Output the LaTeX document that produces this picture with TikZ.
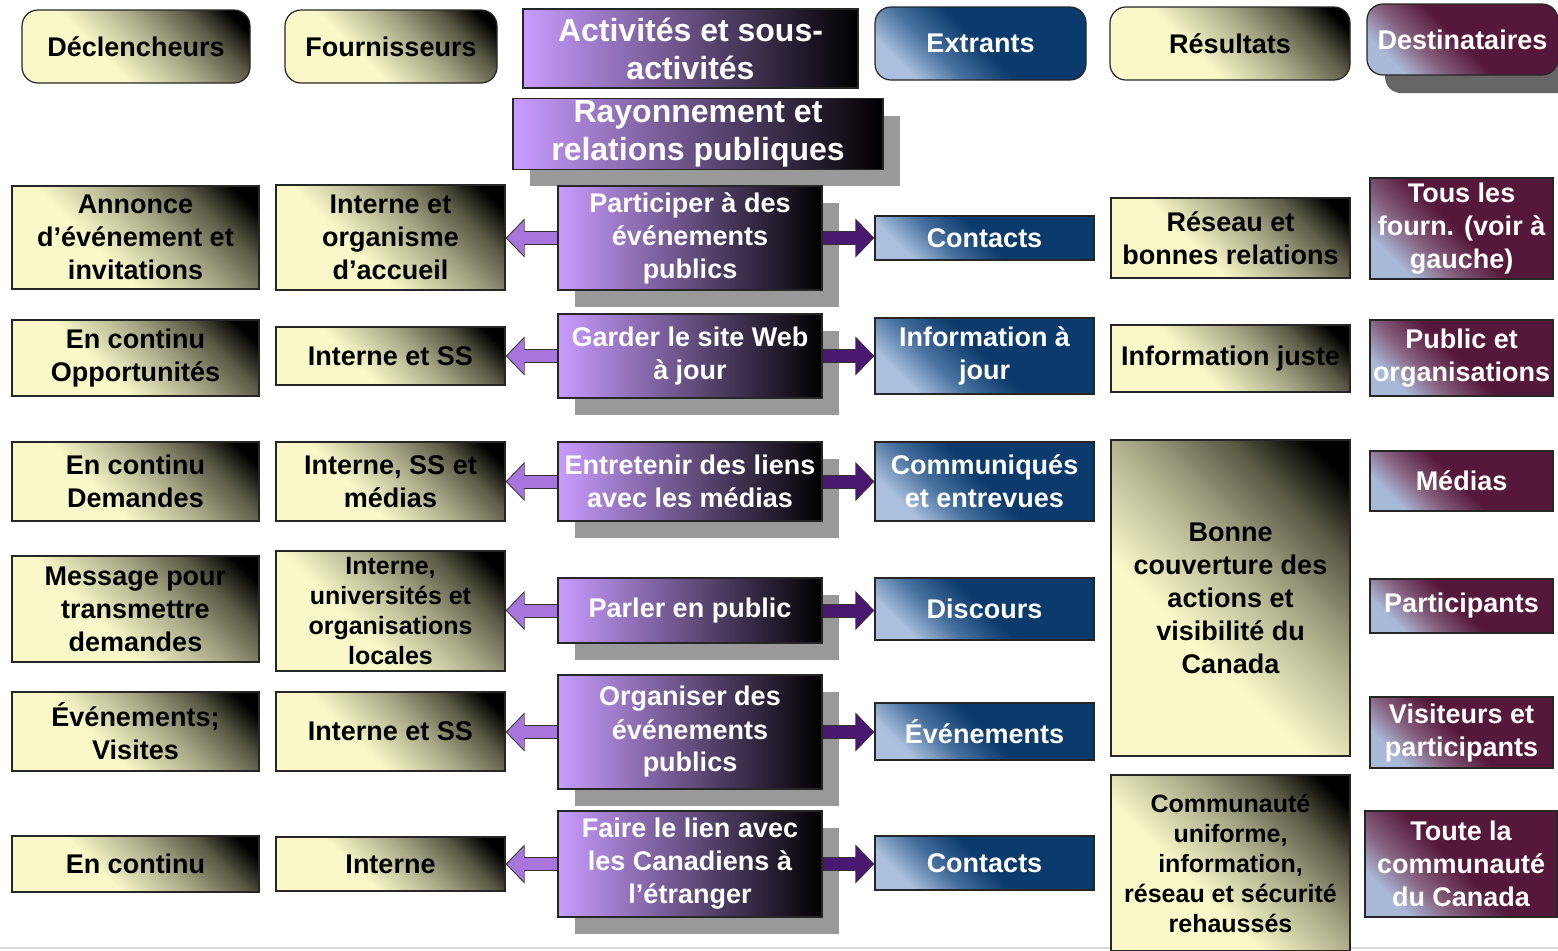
\documentclass[tikz,border=0pt]{standalone}
\usepackage{fontspec}
\setmainfont{Liberation Sans}
\usetikzlibrary{arrows.meta,shadows}

\definecolor{khakiL}{HTML}{F8F8C8}
\definecolor{khakiM}{HTML}{A8A888}
\definecolor{khakiD}{HTML}{5A5A46}
\definecolor{purpL}{HTML}{C99CFF}
\definecolor{blueL}{HTML}{AAC0DE}
\definecolor{blueM}{HTML}{47709E}
\definecolor{blueD}{HTML}{0B3A6C}
\definecolor{maroonL}{HTML}{A9BAD8}
\definecolor{maroonM}{HTML}{86607E}
\definecolor{maroonD}{HTML}{55183A}
\definecolor{arrowL}{HTML}{A775DC}
\definecolor{arrowD}{HTML}{4A1870}

\pgfdeclareverticalshading{khakishade}{100bp}{color(0bp)=(khakiL); color(25bp)=(khakiL); color(40bp)=(khakiL); color(57bp)=(khakiM); color(70bp)=(khakiD); color(80bp)=(black); color(100bp)=(black)}
\pgfdeclareverticalshading{blueshade}{100bp}{color(0bp)=(blueL); color(25bp)=(blueL); color(37bp)=(blueM); color(50bp)=(blueD); color(75bp)=(blueD); color(100bp)=(blueD)}
\pgfdeclareverticalshading{maroonshade}{100bp}{color(0bp)=(maroonL); color(25bp)=(maroonL); color(36bp)=(maroonM); color(49bp)=(maroonD); color(75bp)=(maroonD); color(100bp)=(maroonD)}

\begin{document}
\begin{tikzpicture}[x=0.5pt, y=-0.5pt,
    every node/.append style={inner sep=1pt, align=center, draw=black!85, line width=0.6pt,
      font=\bfseries\fontsize{13.5}{16.5}\selectfont},
    khaki/.style={shade, shading=khakishade, shading angle=-45, text=black},
    blues/.style={shade, shading=blueshade, shading angle=-45, text=white},
    maroon/.style={shade, shading=maroonshade, shading angle=-45, text=white},
    purp/.style={left color=purpL, right color=black, text=white},
    shadowed/.style={drop shadow={shadow xshift=8.5pt, shadow yshift=-8.5pt, fill=black!40, opacity=1}},
    trig/.style={khaki, minimum width=123.5pt},
    supp/.style={khaki, minimum width=114.5pt},
    act/.style={purp, shadowed, minimum width=132pt},
    outp/.style={blues, minimum width=109.5pt},
    res/.style={khaki, minimum width=119.5pt},
    dest/.style={maroon, minimum width=91.5pt}]
  \tikzstyle{big} = [font=\bfseries\fontsize{16}{19}\selectfont]
  \tikzstyle{small} = [font=\bfseries\fontsize{12.5}{15}\selectfont]
  \tikzstyle{head} = [rounded corners=8pt, minimum height=36.5pt]
  \path[use as bounding box, fill=white] (0,0) rectangle (1558,950);
  \draw[black!15, line width=0.6pt] (0,948) -- (1558,948);

  % column heads
  \node[khaki, head, minimum width=114pt] (hdec) at (136,46.5) {Déclencheurs};
  \node[khaki, head, minimum width=106pt] (hfour) at (391,46.5) {Fournisseurs};
  \node[purp, big, minimum width=167.5pt, minimum height=39.5pt] (hact) at (690.5,48.5) {Activités et sous-\\activités};
  \node[blues, head, minimum width=105.5pt] (hext) at (980.5,43.5) {Extrants};
  \node[khaki, head, minimum width=120pt] (hres) at (1230,43.5) {Résultats};
  \node[maroon, head, minimum width=95.5pt, minimum height=35.5pt,
    drop shadow={shadow xshift=9pt, shadow yshift=-9pt, fill=black!60, opacity=1}] (hdest) at (1462.5,39.5) {Destinataires};
  \node[purp, big, shadowed, minimum width=185pt, minimum height=35pt] (rayon) at (698,134) {Rayonnement et\\relations publiques};

  % activities
  \node[act, minimum height=52pt] (act1) at (690,238) {Participer à des\\événements\\publics};
  \node[act, minimum height=42pt] (act2) at (690,356) {Garder le site Web\\à jour};
  \node[act, minimum height=39.5pt] (act3) at (690,481.5) {Entretenir des liens\\avec les médias};
  \node[act, minimum height=32.5pt] (act4) at (690,610.5) {Parler en public};
  \node[act, minimum height=57pt] (act5) at (690,732) {Organiser des\\événements\\publics};
  \node[act, minimum height=53pt] (act6) at (690,864) {Faire le lien avec\\les Canadiens à\\l’étranger};

  % triggers
  \node[trig, minimum height=51.5pt] (dec1) at (135.5,237.5) {Annonce\\d’événement et\\invitations};
  \node[trig, minimum height=38pt] (dec2) at (135.5,358) {En continu\\Opportunités};
  \node[trig, minimum height=39.5pt] (dec3) at (135.5,481.5) {En continu\\Demandes};
  \node[trig, minimum height=53pt] (dec4) at (135.5,609) {Message pour\\transmettre\\demandes};
  \node[trig, minimum height=39.5pt] (dec5) at (135.5,731.5) {Événements;\\Visites};
  \node[trig, minimum height=28pt] (dec6) at (135.5,864) {En continu};

  % suppliers
  \node[supp, minimum height=52.5pt] (four1) at (390.5,237.5) {Interne et\\organisme\\d’accueil};
  \node[supp, minimum height=29pt] (four2) at (390.5,356) {Interne et SS};
  \node[supp, minimum height=39.5pt] (four3) at (390.5,481.5) {Interne, SS et\\médias};
  \node[supp, small, minimum height=60pt] (four4) at (390.5,611) {Interne,\\universités et\\organisations\\locales};
  \node[supp, minimum height=39.5pt] (four5) at (390.5,731.5) {Interne et SS};
  \node[supp, minimum height=27pt] (four6) at (390.5,864) {Interne};

  % outputs
  \node[outp, minimum height=22pt] (ext1) at (984.5,238) {Contacts};
  \node[outp, minimum height=38pt] (ext2) at (984.5,356) {Information à\\jour};
  \node[outp, minimum height=39.5pt] (ext3) at (984.5,481.5) {Communiqués\\et entrevues};
  \node[outp, minimum height=31pt] (ext4) at (984.5,609) {Discours};
  \node[outp, minimum height=28.5pt] (ext5) at (984.5,731.5) {Événements};
  \node[outp, minimum height=27pt] (ext6) at (984.5,863) {Contacts};

  % results
  \node[res, minimum height=40pt] (res1) at (1230.5,238) {Réseau et\\bonnes relations};
  \node[res, minimum height=33.5pt] (res2) at (1230.5,358.5) {Information juste};
  \node[res, minimum height=158pt] (res3) at (1230.5,598) {Bonne\\couverture des\\actions et\\visibilité du\\Canada};
  \node[res, small, minimum height=88pt] (res4) at (1230.5,863) {Communauté\\uniforme,\\information,\\réseau et sécurité\\rehaussés};

  % recipients
  \node[dest, minimum height=50.5pt] (dest1) at (1461.5,228.5) {Tous les\\fourn. (voir à\\gauche)};
  \node[dest, minimum height=38pt] (dest2) at (1461.5,358) {Public et\\organisations};
  \node[dest, minimum height=30pt] (dest3) at (1461.5,481) {Médias};
  \node[dest, minimum height=27pt] (dest4) at (1461.5,606) {Participants};
  \node[dest, minimum height=35.5pt] (dest5) at (1461.5,732.5) {Visiteurs et\\participants};
  \node[dest, minimum height=53pt, minimum width=96pt] (dest6) at (1461,864) {Toute la\\communauté\\du Canada};

  % fat arrows
  \foreach \i in {1,...,6} {
    \draw[black!80, line width=7pt, -{Triangle[length=9.5pt,width=19pt]}] (act\i.west) -- (four\i.east |- act\i.west);
    \draw[arrowL, line width=6pt, shorten >=0.7pt, -{Triangle[length=8.5pt,width=17pt]}] (act\i.west) -- (four\i.east |- act\i.west);
    \draw[black!80, line width=7pt, -{Triangle[length=9.5pt,width=19pt]}] (act\i.east) -- (ext\i.west |- act\i.east);
    \draw[arrowD, line width=6pt, shorten >=0.7pt, -{Triangle[length=8.5pt,width=17pt]}] (act\i.east) -- (ext\i.west |- act\i.east);
  }
\end{tikzpicture}
\end{document}
